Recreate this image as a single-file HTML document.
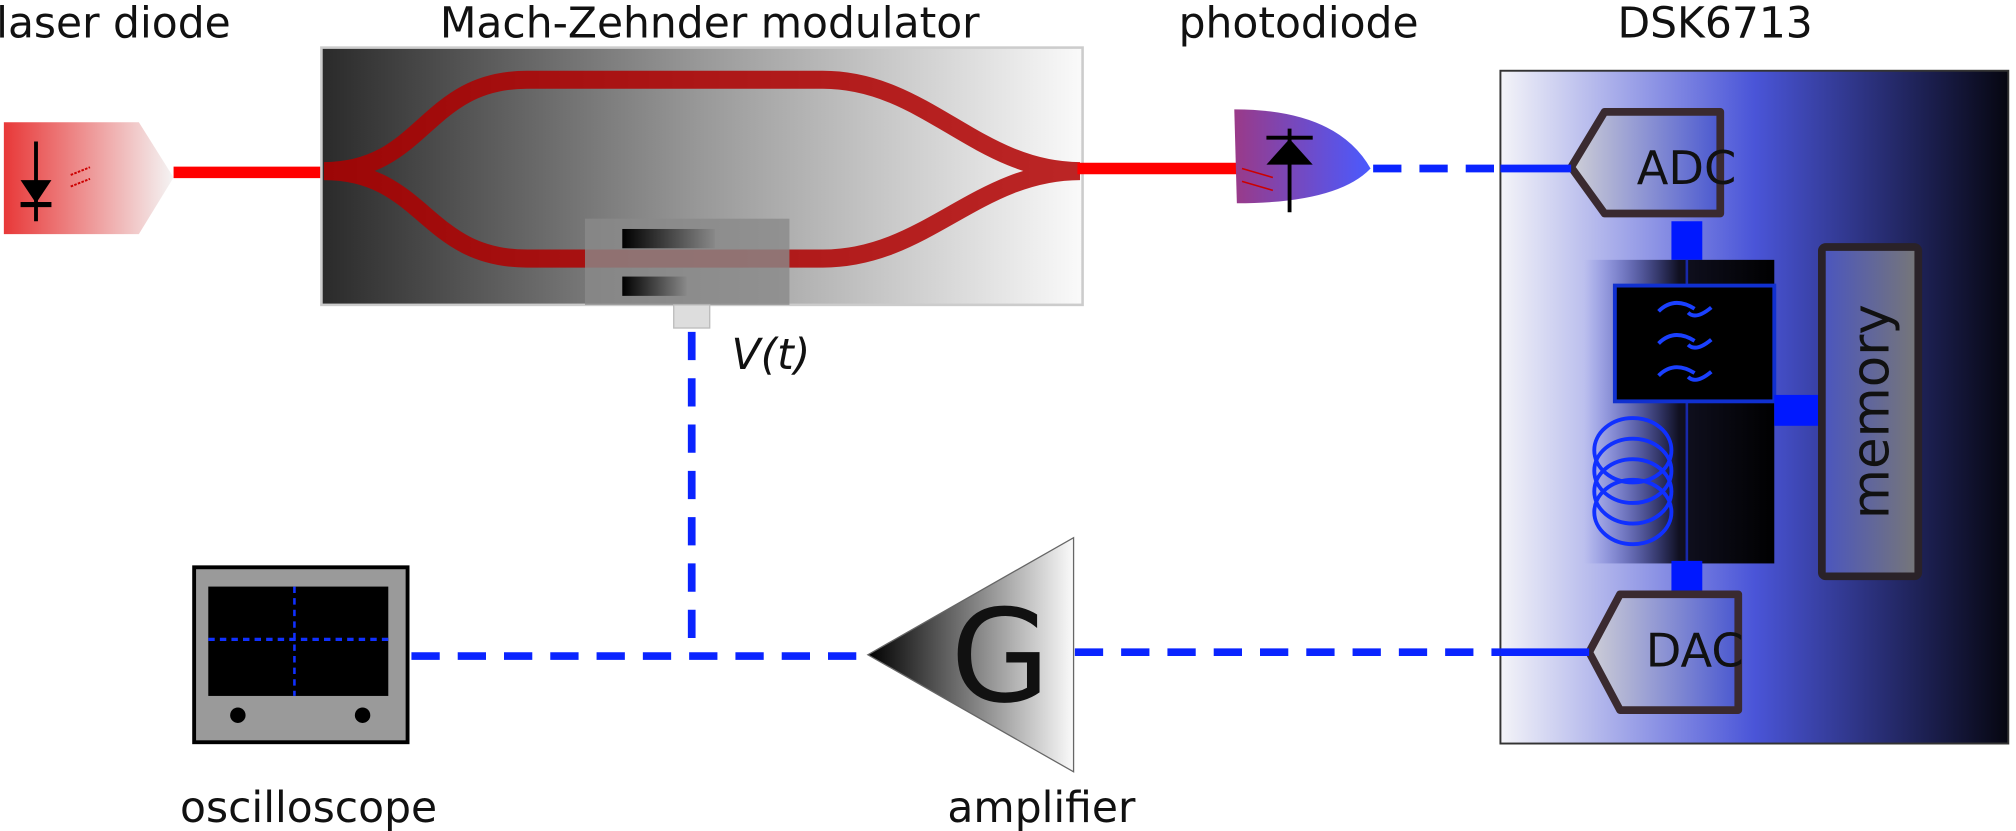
<!DOCTYPE html>
<html><head><meta charset="utf-8"><style>
html,body{margin:0;padding:0;background:#fff;width:2016px;height:831px;overflow:hidden}
svg{display:block}
text{font-family:"DejaVu Sans","Liberation Sans",sans-serif;fill:#111}
</style></head><body>
<svg width="2016" height="831" viewBox="0 0 1568 646" preserveAspectRatio="none" xmlns="http://www.w3.org/2000/svg">
<defs>
<linearGradient id="gLaser" x1="0" x2="1"><stop offset="0" stop-color="#e83838"/><stop offset="1" stop-color="#f4f4f4"/></linearGradient>
<linearGradient id="gMzm" x1="0" x2="1"><stop offset="0" stop-color="#2a2a2a"/><stop offset="0.5" stop-color="#999"/><stop offset="1" stop-color="#fafafa"/></linearGradient>
<linearGradient id="gPd" x1="0" x2="1"><stop offset="0" stop-color="#9a3a88"/><stop offset="1" stop-color="#4a5aff"/></linearGradient>
<linearGradient id="gDsk" x1="0" x2="1"><stop offset="0" stop-color="#f4f4f8"/><stop offset="0.5" stop-color="#4a55d8"/><stop offset="1" stop-color="#060610"/></linearGradient>
<linearGradient id="gConv" x1="0" x2="1"><stop offset="0" stop-color="#cfcfd6"/><stop offset="1" stop-color="#4a58d0"/></linearGradient>
<linearGradient id="gProc" x1="0" x2="1"><stop offset="0" stop-color="#4a55d8" stop-opacity="0"/><stop offset="0.5" stop-color="#101020"/><stop offset="1" stop-color="#000"/></linearGradient>
<linearGradient id="gMem" x1="0" x2="1"><stop offset="0" stop-color="#4a55c0"/><stop offset="1" stop-color="#777"/></linearGradient>
<linearGradient id="gAmp" x1="0" x2="1"><stop offset="0" stop-color="#000"/><stop offset="1" stop-color="#fafafa"/></linearGradient>
<linearGradient id="gBar" x1="0" x2="1"><stop offset="0" stop-color="#000"/><stop offset="1" stop-color="#888"/></linearGradient>
</defs>

<text x="-3" y="29" font-size="33">laser diode</text>
<text x="552" y="29" font-size="33" text-anchor="middle">Mach-Zehnder modulator</text>
<text x="1010" y="29" font-size="33" text-anchor="middle">photodiode</text>
<text x="1334" y="29" font-size="33" text-anchor="middle">DSK6713</text>

<!-- laser diode -->
<g>
<polygon points="3,95 108,95 135,138 108,182 3,182" fill="url(#gLaser)"/>
<line x1="28" y1="110" x2="28" y2="172" stroke="#000" stroke-width="3"/>
<polygon points="16,140 40,140 28,158" fill="#000"/>
<line x1="16" y1="159" x2="40" y2="159" stroke="#000" stroke-width="4"/>
<line x1="55" y1="136" x2="70" y2="130" stroke="#c00" stroke-width="1.5" stroke-dasharray="2 1"/>
<line x1="55" y1="145" x2="70" y2="139" stroke="#c00" stroke-width="1.5" stroke-dasharray="2 1"/>
</g>
<line x1="135" y1="134" x2="255" y2="134" stroke="#f00" stroke-width="9"/>

<!-- MZM -->
<g>
<rect x="250" y="37" width="592" height="200" fill="url(#gMzm)" stroke="#ccc" stroke-width="2"/>
<path d="M252,133 C330,133 330,62 410,62 L640,62 C720,62 760,133 840,133 C760,133 720,201 640,201 L410,201 C330,201 330,133 252,133 Z" fill="none" stroke="#b00000" stroke-opacity="0.85" stroke-width="14"/>
<rect x="455" y="170" width="159" height="67" fill="#8a8a8a" opacity="0.8"/>
<rect x="484" y="178" width="72" height="15" fill="url(#gBar)"/>
<rect x="484" y="215" width="50" height="15" fill="url(#gBar)"/>
<rect x="524" y="237" width="28" height="18" fill="#ddd" stroke="#bbb"/>
</g>
<text x="569" y="287" font-size="33" font-style="italic">V(t)</text>
<line x1="838" y1="131" x2="962" y2="131" stroke="#f00" stroke-width="9"/>

<!-- photodiode -->
<g>
<path d="M960,85 Q1040,85 1066,131 Q1040,158 962,158 Z" fill="url(#gPd)"/>
<line x1="1003" y1="100" x2="1003" y2="165" stroke="#000" stroke-width="3"/>
<polygon points="985,128 1021,128 1003,108" fill="#000"/>
<line x1="985" y1="107" x2="1021" y2="107" stroke="#000" stroke-width="3"/>
<line x1="966" y1="131" x2="990" y2="138" stroke="#c00" stroke-width="1.2"/>
<line x1="966" y1="141" x2="990" y2="148" stroke="#c00" stroke-width="1.2"/>
</g>

<!-- DSK -->
<g>
<rect x="1167" y="55" width="395" height="523" fill="url(#gDsk)" stroke="#333" stroke-width="1.5"/>
<polygon points="1222,130 1248,87 1338,87 1338,166 1248,166" fill="url(#gConv)" stroke="#3a2a30" stroke-width="6" stroke-linejoin="round"/>
<text x="1273" y="143" font-size="36">ADC</text>
<rect x="1300" y="172" width="24" height="30" fill="#0018ff"/>
<rect x="1232" y="202" width="148" height="236" fill="url(#gProc)"/>
<line x1="1312" y1="202" x2="1312" y2="438" stroke="#1828a8" stroke-width="2"/>
<rect x="1256" y="222" width="124" height="90" fill="#000" stroke="#1030d0" stroke-width="3"/>
<g stroke="#1a40ff" stroke-width="3" fill="none">
<path d="M1290,242 q12,-12 28,-2 M1313,243 q6,6 18,-4"/>
<path d="M1290,267 q12,-12 28,-2 M1313,268 q6,6 18,-4"/>
<path d="M1290,292 q12,-12 28,-2 M1313,293 q6,6 18,-4"/>
</g>
<g stroke="#1030ff" stroke-width="3" fill="none">
<ellipse cx="1270" cy="350" rx="30" ry="25"/>
<ellipse cx="1270" cy="366" rx="30" ry="25"/>
<ellipse cx="1270" cy="382" rx="30" ry="25"/>
<ellipse cx="1270" cy="398" rx="30" ry="25"/>
</g>
<rect x="1380" y="307" width="36" height="24" fill="#0018ff"/>
<rect x="1417" y="192" width="75" height="256" fill="url(#gMem)" stroke="#2a2228" stroke-width="6" rx="3"/>
<text x="0" y="0" font-size="40" text-anchor="middle" transform="translate(1469,320) rotate(-90)">memory</text>
<rect x="1300" y="436" width="24" height="26" fill="#0018ff"/>
<polygon points="1236,507 1260,462 1352,462 1352,552 1260,552" fill="url(#gConv)" stroke="#3a2a30" stroke-width="6" stroke-linejoin="round"/>
<text x="1280" y="518" font-size="36">DAC</text>
</g>

<!-- signal lines -->
<g stroke="#0a24ff" stroke-width="6" fill="none">
<line x1="1068" y1="131" x2="1167" y2="131" stroke-dasharray="22 14"/>
<line x1="1167" y1="131" x2="1222" y2="131"/>
<line x1="538" y1="258" x2="538" y2="510" stroke-dasharray="22 14"/>
<line x1="320" y1="510" x2="675" y2="510" stroke-dasharray="22 14"/>
<line x1="836" y1="507" x2="1167" y2="507" stroke-dasharray="22 14"/>
<line x1="1167" y1="507" x2="1236" y2="507"/>
</g>

<!-- amplifier -->
<g>
<polygon points="675,509 835,418 835,600" fill="url(#gAmp)" stroke="#666" stroke-width="1"/>
<text x="778" y="545" font-size="100" text-anchor="middle">G</text>
</g>
<text x="810" y="639" font-size="33" text-anchor="middle">amplifier</text>

<!-- oscilloscope -->
<g>
<rect x="151" y="441" width="166" height="136" fill="#9a9a9a" stroke="#000" stroke-width="3"/>
<rect x="162" y="456" width="140" height="85" fill="#000"/>
<line x1="229" y1="456" x2="229" y2="541" stroke="#1030ff" stroke-width="2" stroke-dasharray="5 4"/>
<line x1="162" y1="497" x2="302" y2="497" stroke="#1030ff" stroke-width="2.5" stroke-dasharray="5 4"/>
<circle cx="185" cy="556" r="6" fill="#000"/>
<circle cx="282" cy="556" r="6" fill="#000"/>
</g>
<text x="240" y="639" font-size="33" text-anchor="middle">oscilloscope</text>
</svg>
</body></html>
